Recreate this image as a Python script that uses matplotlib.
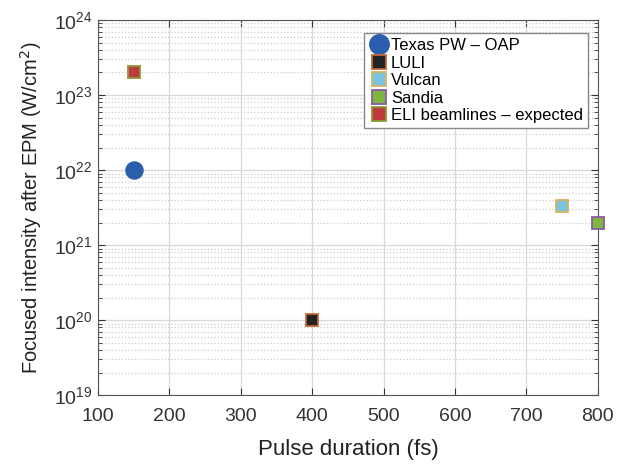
import matplotlib
matplotlib.use('Agg')
import matplotlib.pyplot as plt
from matplotlib.ticker import LogLocator, NullFormatter

plt.rcParams['font.family'] = ['Liberation Sans', 'DejaVu Sans']

# Data
labels = ['Texas PW \u2013 OAP', 'LULI', 'Vulcan', 'Sandia', 'ELI beamlines \u2013 expected']
pulse_fs = [150, 400, 750, 800, 150]
intensity = [1e22, 1e20, 3.3e21, 2e21, 2e23]
markers = ['o', 's', 's', 's', 's']
faces = ['#2b5fad', '#222222', '#7ac3e0', '#7db53f', '#c0393b']
edges = ['#2b5fad', '#c0663a', '#d8b45a', '#8a5aa8', '#8a9a3a']
sizes = [12, 9, 9, 9, 9]

fig = plt.figure(figsize=(6.24, 4.66), dpi=100)
ax = fig.add_axes([0.157, 0.152, 0.801, 0.805])

for lab, x, y, m, fc, ec, s in zip(labels, pulse_fs, intensity, markers, faces, edges, sizes):
    ax.plot([x], [y], linestyle='none', marker=m, markersize=s,
            markerfacecolor=fc, markeredgecolor=ec, markeredgewidth=1.3,
            label=lab, zorder=3, clip_on=False)

ax.set_yscale('log')
ax.set_xlim(100, 800)
ax.set_ylim(1e19, 1e24)
ax.set_xticks(range(100, 801, 100))
ax.yaxis.set_major_locator(LogLocator(base=10, numticks=10))
ax.yaxis.set_minor_locator(LogLocator(base=10, subs=range(2, 10), numticks=20))
ax.yaxis.set_minor_formatter(NullFormatter())

ax.grid(which='major', color='#d8d8d8', linestyle='-', linewidth=0.9)
ax.grid(which='minor', axis='y', color='#cccccc', linestyle=':', linewidth=0.9)
ax.set_axisbelow(True)

ax.tick_params(which='both', direction='in', top=True, right=True, labelsize=14, colors='#333333')
ax.tick_params(which='major', length=5)
ax.tick_params(which='minor', length=3)
ax.tick_params(axis='x', pad=9)
ax.tick_params(axis='y', pad=4)
for sp in ax.spines.values():
    sp.set_color('#555555')

ax.set_xlabel('Pulse duration (fs)', fontsize=16, color='#222222', labelpad=10)
ax.set_ylabel('Focused intensity after EPM (W/cm$^2$)', fontsize=14.5, color='#222222', labelpad=7)

leg = ax.legend(loc='upper right', bbox_to_anchor=(0.98, 0.965), borderaxespad=0, fontsize=12,
                handletextpad=0.1, handlelength=1.2, borderpad=0.3, labelspacing=0.15,
                markerscale=1.15, fancybox=False, framealpha=1, edgecolor='#888888')

fig.savefig('out.png', dpi=100)
